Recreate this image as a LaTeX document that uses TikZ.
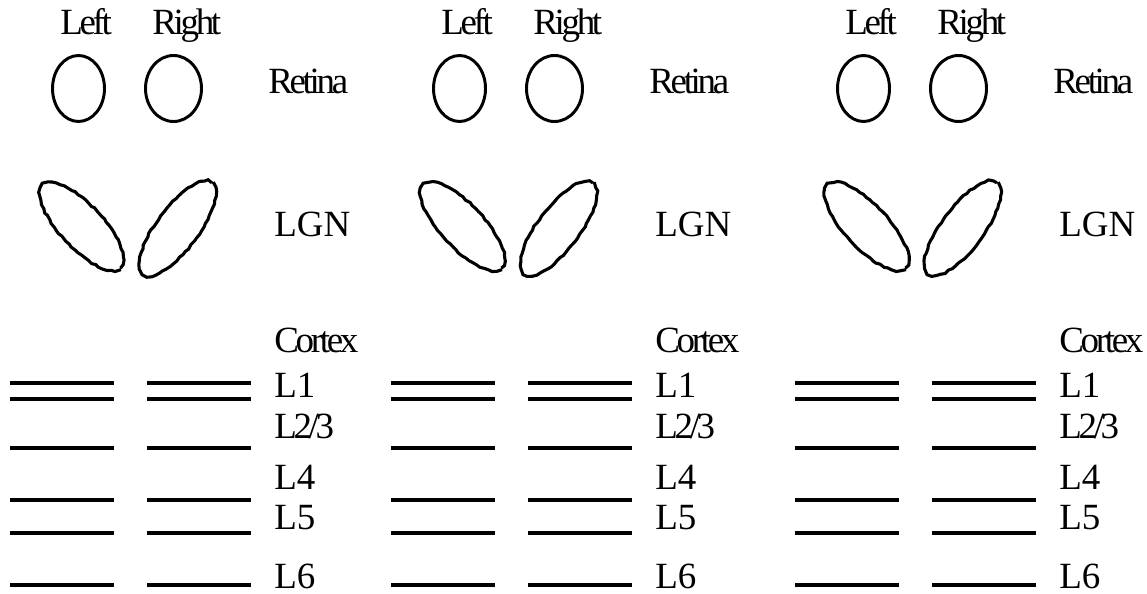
\documentclass[tikz,border=0pt]{standalone}
\usepackage{fontspec}
\setmainfont{Liberation Serif}
\newfontfamily\tightfont[LetterSpace=-9]{Liberation Serif}
\usetikzlibrary{decorations.pathmorphing}
\tikzset{
  eye/.style={draw=black, line width=2.1pt},
  lgn/.style={draw=black, line width=2.2pt, decorate, decoration={random steps, segment length=3pt, amplitude=0.5pt}},
  layer/.style={draw=black, line width=2.85pt},
  tag/.style={anchor=base west, inner sep=0pt, font=\tightfont\fontsize{26.3pt}{30pt}\selectfont},
  widetag/.style={tag, font=\rmfamily\fontsize{26.3pt}{30pt}\selectfont}
}

\begin{document}
\begin{tikzpicture}
  \useasboundingbox (0,0) rectangle (28.675,-14.85);
  \foreach \p/\dx in {1/0,2/9.525,3/19.625}{
  \begin{scope}[xshift=\dx cm]
    % retina
    \node[tag] (left-\p) at (1.5,-0.875) {Left};
    \node[tag] (right-\p) at (3.8,-0.875) {Right};
    \draw[eye] (1.9625,-2.2125) ellipse (0.65 and 0.825);
    \draw[eye] (4.3375,-2.2125) ellipse (0.7 and 0.825);
    \node[tag] (retina-\p) at (6.7,-2.35) {Retina};
    % lgn
    \draw[lgn] (2.04,-5.66) ellipse [x radius=1.425, y radius=0.54, rotate=-47];
    \draw[lgn] (4.44,-5.71) ellipse [x radius=1.425, y radius=0.525, rotate=53];
    \node[widetag] (lgn-\p) at (6.85,-5.925) {LGN};
    % cortex layers
    \foreach \y in {-9.5675,-9.9675,-11.19,-12.5,-13.33,-14.625}{
      \draw[layer] (0.25,\y) -- (2.85,\y);
      \draw[layer] (3.675,\y) -- (6.275,\y);
    }
    \node[tag] (cortex-\p) at (6.85,-8.825) {Cortex};
    \node[widetag] (l1-\p) at (6.85,-9.925) {L1};
    \node[tag] (l23-\p) at (6.85,-10.95) {L2/3};
    \node[widetag] (l4-\p) at (6.85,-12.225) {L4};
    \node[widetag] (l5-\p) at (6.85,-13.225) {L5};
    \node[widetag] (l6-\p) at (6.85,-14.7) {L6};
  \end{scope}
  }
\end{tikzpicture}
\end{document}
